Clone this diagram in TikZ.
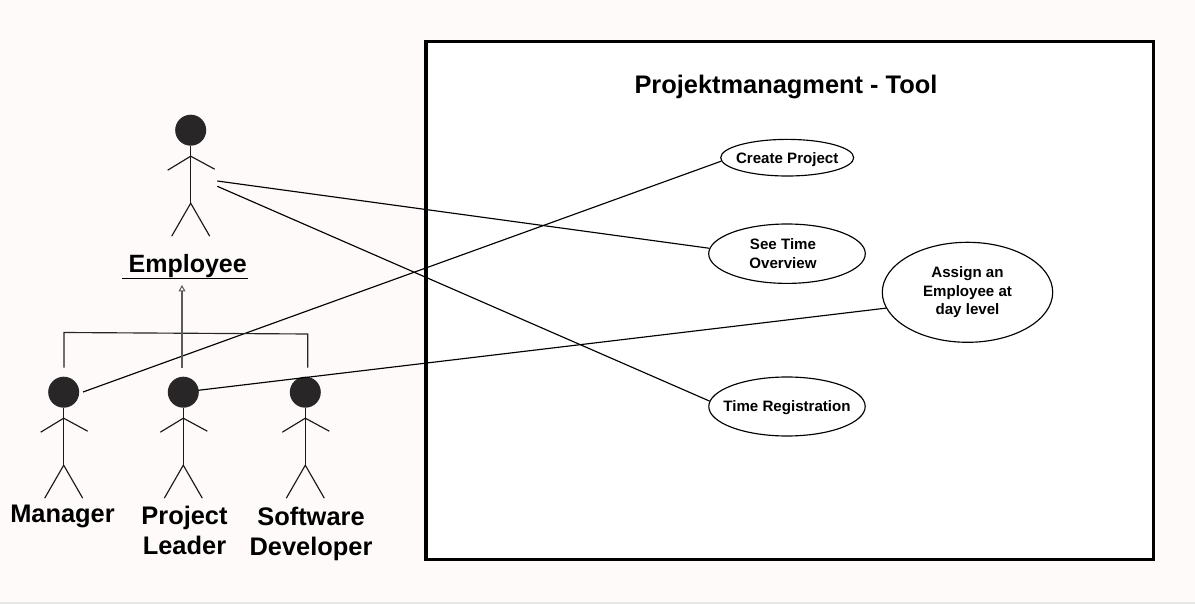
\documentclass[tikz,border=0pt]{standalone}
\usepackage{fontspec}
\setmainfont{Liberation Sans}[BoldFont={Liberation Sans Bold}]
\usetikzlibrary{shapes.geometric,arrows.meta}
\definecolor{pagebg}{HTML}{FEFAF9}
\definecolor{headcol}{HTML}{282626}
\definecolor{arrowcol}{HTML}{5A5A5A}
\definecolor{basecol}{HTML}{E6E8E6}
\tikzset{
  x=1pt,y=-1pt,
  wire/.style={draw=black,line width=1.15pt},
  stick/.style={draw=black!90,line width=1.15pt},
  usecase/.style={ellipse,draw=black,line width=1.15pt,inner ysep=0pt,inner xsep=-30pt,align=center,
    font=\bfseries\fontsize{15.1}{18.6}\selectfont},
  biglabel/.style={inner sep=0pt,align=center,font=\bfseries\fontsize{25.4}{30}\selectfont},
  pics/actor/.style={code={
    \node[circle,fill=headcol,draw=none,minimum size=31pt,inner sep=0pt] (-head) at (0,-73) {};
    \draw[stick] (0,-57) -- (0,0);
    \draw[stick] (-23,-33) -- (0,-47) -- (24,-34);
    \draw[stick] (-19,33) -- (0,0) -- (19,33);
  }}
}
\begin{document}
\begin{tikzpicture}
\useasboundingbox (0,0) rectangle (1195,604);
\fill[pagebg] (0,0) rectangle (1195,604);
\fill[basecol] (0,602.4) rectangle (1195,604);
\node[draw=black,fill=white,line width=3.5pt,minimum width=727.5pt,minimum height=518pt,inner sep=0pt] (frame) at (789.8,300.5) {};
\node[inner sep=0pt,font=\bfseries\fontsize{25.4}{30}\selectfont] (title) at (786,87) {Projektmanagment - Tool};

\pic (employee) at (190.7,203.2) {actor};
\pic (manager) at (63.7,465.2) {actor};
\pic (leader) at (183.3,465.2) {actor};
\pic (developer) at (305.3,465.2) {actor};

\node[usecase,minimum width=133pt,minimum height=36.6pt] (create) at (787.2,157.7) {\rule{0pt}{14pt}Create Project};
\node[usecase,minimum width=156.6pt,minimum height=59.4pt] (seetime) at (787,253.7) {See Time\hspace*{8pt}\\Overview\hspace*{8pt}};
\node[usecase,minimum width=170.4pt,minimum height=100pt] (assign) at (967.5,292.3) {Assign an\\Employee at\\day level};
\node[usecase,minimum width=156.4pt,minimum height=59pt] (timereg) at (787,406.5) {\rule{0pt}{14pt}Time Registration};

\coordinate (empA) at (217.3,181);
\coordinate (empB) at (217.3,186.3);
\coordinate (mgrOut) at (83,392);
\coordinate (ldrOut) at (198.3,390.3);
\draw[wire] (empA) -- (seetime.176.6);
\draw[wire] (empB) -- (timereg.176.5);
\draw[wire] (mgrOut) -- (create.183.4);
\draw[wire] (ldrOut) -- (assign.191);

\node[biglabel,font=\bfseries\fontsize{25}{30}\selectfont] (emplabel) at (187.7,266) {Employee};
\coordinate (ulL) at (122.3,278.7);
\coordinate (ulR) at (248,278.7);
\draw[wire] (ulL) -- (ulR);

\coordinate (barL) at (64,332.5);
\coordinate (barR) at (307.7,334);
\coordinate (dropL) at (64,367.7);
\coordinate (dropR) at (307.7,367.7);
\coordinate (arrowS) at (182,367.7);
\coordinate (arrowE) at (182,285);
\draw[wire,draw=black!85] (dropL) -- (barL) -- (barR) -- (dropR);
\draw[draw=arrowcol,line width=1.2pt,-{Triangle[open,length=6.5pt,width=7pt,line width=1pt]}] (arrowS) -- (arrowE);

\node[biglabel] (mgrlabel) at (62.5,516) {Manager};
\node[biglabel] (ldrlabel) at (184.5,530.5) {Project\\Leader};
\node[biglabel] (devlabel) at (311,533.5) {Software\\Developer};
\end{tikzpicture}
\end{document}
